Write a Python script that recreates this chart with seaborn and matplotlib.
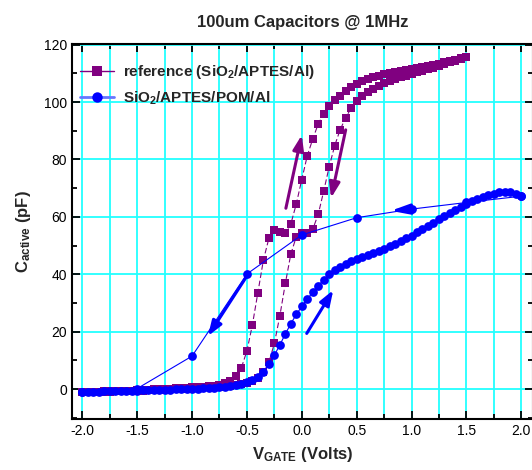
import matplotlib
matplotlib.use("Agg")
import matplotlib.pyplot as plt
from matplotlib.lines import Line2D
from matplotlib.ticker import MultipleLocator
import seaborn as sns

# ── Data ─────────────────────────────────────────────────────────────────────
# gate voltage sweep, -2.0 … 2.0 V in 0.05 V steps
SWEEP_V = [-2.0, -1.95, -1.9, -1.85, -1.8, -1.75, -1.7, -1.65, -1.6, -1.55,
           -1.5, -1.45, -1.4, -1.35, -1.3, -1.25, -1.2, -1.15, -1.1, -1.05,
           -1.0, -0.95, -0.9, -0.85, -0.8, -0.75, -0.7, -0.65, -0.6, -0.55,
           -0.5, -0.45, -0.4, -0.35, -0.3, -0.25, -0.2, -0.15, -0.1, -0.05,
           0.0, 0.05, 0.1, 0.15, 0.2, 0.25, 0.3, 0.35, 0.4, 0.45,
           0.5, 0.55, 0.6, 0.65, 0.7, 0.75, 0.8, 0.85, 0.9, 0.95,
           1.0, 1.05, 1.1, 1.15, 1.2, 1.25, 1.3, 1.35, 1.4, 1.45,
           1.5, 1.55, 1.6, 1.65, 1.7, 1.75, 1.8, 1.85, 1.9, 1.95, 2.0]

# reference (SiO2/APTES/Al): sweep up -2.0 → 1.5 V
REF_UP_C = [-1.0, -0.95, -0.9, -0.85, -0.8, -0.75, -0.7, -0.65, -0.6, -0.5,
            -0.4, -0.3, -0.2, -0.1, 0.0, 0.1, 0.2, 0.3, 0.4, 0.5,
            0.6, 0.7, 0.85, 1.0, 1.2, 1.5, 2.0, 2.9, 4.5, 7.5,
            13.3, 22.4, 33.6, 44.9, 52.5, 55.3, 54.8, 54.4, 57.5, 64.5,
            73.0, 81.3, 87.1, 92.4, 95.9, 98.5, 100.6, 102.2, 104.0, 105.3,
            106.4, 107.3, 108.0, 108.6, 109.1, 109.6, 110.0, 110.4, 110.8, 111.2,
            111.5, 111.9, 112.3, 112.6, 113.0, 113.4, 113.8, 114.2, 114.7, 115.2,
            115.8]
# reference: sweep back 1.5 → -2.0 V (listed in ascending-voltage order)
REF_DOWN_C = [-1.1, -1.05, -1.0, -0.95, -0.9, -0.85, -0.8, -0.75, -0.7, -0.65,
              -0.6, -0.5, -0.4, -0.3, -0.2, -0.1, 0.0, 0.1, 0.2, 0.3,
              0.4, 0.5, 0.6, 0.7, 0.8, 0.9, 1.0, 1.2, 1.5, 1.8,
              2.2, 2.8, 3.8, 5.8, 9.3, 15.9, 25.5, 36.8, 47.0, 53.1,
              54.5, 54.5, 55.7, 60.9, 69.0, 77.5, 84.8, 90.4, 94.5, 97.9,
              100.2, 102.0, 103.5, 104.7, 105.7, 106.5, 107.3, 108.0, 108.6, 109.2,
              109.8, 110.4, 110.9, 111.5, 112.0, 112.6, 113.2, 113.8, 114.4, 115.1,
              115.8]

# SiO2/APTES/POM/Al: dense sweep up -2.0 → 2.0 V
POM_UP_C = [-1.0, -0.95, -0.9, -0.85, -0.8, -0.75, -0.7, -0.65, -0.6, -0.55,
            -0.5, -0.45, -0.4, -0.35, -0.3, -0.25, -0.2, -0.12, -0.05, 0.03,
            0.1, 0.2, 0.3, 0.4, 0.5, 0.65, 0.8, 1.0, 1.3, 1.8,
            2.5, 3.3, 4.4, 5.8, 8.8, 11.8, 15.4, 19.2, 22.8, 26.0,
            28.8, 31.4, 33.7, 36.0, 38.1, 40.0, 41.5, 42.7, 43.7, 44.6,
            45.4, 46.1, 46.7, 47.4, 48.0, 48.8, 49.7, 50.6, 51.5, 52.5,
            53.5, 54.6, 55.7, 56.8, 57.9, 59.1, 60.2, 61.3, 62.4, 63.5,
            64.5, 65.4, 66.3, 67.0, 67.6, 68.1, 68.5, 68.7, 68.6, 68.1, 67.2]
# POM: sparse sweep back 2.0 → -2.0 V
POM_DOWN_V = [2.0, 1.5, 1.0, 0.5, 0.0, -0.5, -1.0, -1.5, -2.0]
POM_DOWN_C = [67.2, 65.0, 62.7, 59.7, 53.7, 40.1, 11.5, 0.2, -1.0]

REF_LABEL = "reference (SiO$_2$/APTES/Al)"
POM_LABEL = "SiO$_2$/APTES/POM/Al"

PURPLE = "#800080"
BLUE = "#0000FF"

# ── Style ────────────────────────────────────────────────────────────────────
sns.set_style("ticks")
plt.rcParams["font.family"] = ["Liberation Sans", "DejaVu Sans"]
plt.rcParams["axes.unicode_minus"] = False
plt.rcParams["mathtext.fontset"] = "custom"
plt.rcParams["mathtext.rm"] = "Liberation Sans:bold"
plt.rcParams["mathtext.it"] = "Liberation Sans:bold"
plt.rcParams["mathtext.bf"] = "Liberation Sans:bold"

fig = plt.figure(figsize=(5.32, 4.70), dpi=100)
ax = fig.add_axes([72 / 532, 51 / 470, 461 / 532, 375 / 470])

# ── Reference loop ───────────────────────────────────────────────────────────
n_ref = len(REF_UP_C)
ref_v = SWEEP_V[:n_ref] + SWEEP_V[:n_ref][::-1]
ref_c = REF_UP_C + REF_DOWN_C[::-1]
sns.lineplot(x=ref_v, y=ref_c, sort=False, estimator=None, ax=ax,
             color=PURPLE, lw=0.8, ls=(0, (5, 2.5)),
             marker="s", markersize=5.2, markeredgewidth=0)

# ── POM loop ─────────────────────────────────────────────────────────────────
sns.lineplot(x=SWEEP_V, y=POM_UP_C, sort=False, estimator=None, ax=ax,
             color=BLUE, lw=0.8, marker="o", markersize=6.3, markeredgewidth=0)
sns.lineplot(x=POM_DOWN_V, y=POM_DOWN_C, sort=False, estimator=None, ax=ax,
             color=BLUE, lw=0.8, marker="o", markersize=6.3, markeredgewidth=0)

# ── Sweep-direction arrows ───────────────────────────────────────────────────
def arrow(tail, tip, color, hl=0.9, hw=0.32):
    ax.annotate("", xy=tip, xytext=tail,
                arrowprops=dict(arrowstyle=f"-|>,head_length={hl},head_width={hw}",
                                color=color, lw=2.2, shrinkA=0, shrinkB=0))

arrow((-0.145, 63.0), (0.0, 88.5), PURPLE)
arrow((0.40, 90.3), (0.267, 66.6), PURPLE)
arrow((-0.49, 40.0), (-0.855, 18.5), BLUE)
arrow((0.045, 19.4), (0.287, 34.5), BLUE)
arrow((0.97, 62.6), (0.81, 62.1), BLUE, hl=1.1, hw=0.3)

# ── Axes ─────────────────────────────────────────────────────────────────────
ax.set_xlim(-2.094, 2.107)
ax.set_ylim(-10.4, 120.2)
ax.xaxis.set_major_locator(MultipleLocator(0.5))
ax.xaxis.set_minor_locator(MultipleLocator(0.25))
ax.yaxis.set_major_locator(MultipleLocator(20))
ax.yaxis.set_minor_locator(MultipleLocator(10))
ax.xaxis.set_major_formatter(lambda v, p: f"{v:.1f}")
ax.set_axisbelow(True)
ax.grid(which="major", color="#22FFFF", lw=1.3)
ax.grid(which="minor", axis="x", color="#22FFFF", lw=1.3)
ax.tick_params(which="both", direction="in", top=True, right=True,
               width=1.3, labelsize=10, colors="black")
ax.tick_params(which="major", length=6)
ax.tick_params(which="minor", length=3.5)
for sp in ax.spines.values():
    sp.set_linewidth(1.5)
    sp.set_color("black")

ax.set_title("100um Capacitors @ 1MHz", fontsize=12, fontweight="bold", pad=12)
ax.set_xlabel("V$_{GATE}$ (Volts)", fontsize=12, fontweight="bold", labelpad=5)
ax.set_ylabel("C$_{active}$ (pF)", fontsize=12, fontweight="bold", labelpad=8)

handles = [
    Line2D([], [], color=PURPLE, lw=1, marker="s", markersize=6.5, markeredgewidth=0),
    Line2D([], [], color="#6677FF", lw=2, marker="o", markersize=7.5,
           markerfacecolor=BLUE, markeredgewidth=0),
]
ax.legend(handles, [REF_LABEL, POM_LABEL], loc="upper left", frameon=False,
          bbox_to_anchor=(0.004, 0.966), borderaxespad=0,
          prop={"weight": "bold", "size": 11}, handlelength=2.2,
          handletextpad=0.6, labelspacing=0.55)

fig.savefig("out.png", dpi=100)
print("Saved → out.png")
